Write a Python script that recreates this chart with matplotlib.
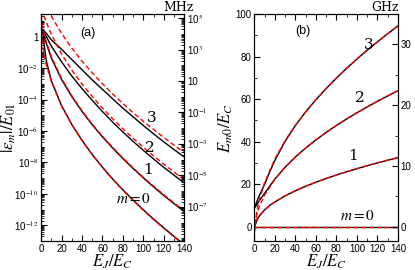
import numpy as np
import matplotlib
matplotlib.use("Agg")
import matplotlib.pyplot as plt
from matplotlib.ticker import FixedLocator, LogLocator, NullFormatter, MultipleLocator

plt.rcParams["mathtext.fontset"] = "stix"
plt.rcParams["font.family"] = ["Liberation Sans", "DejaVu Sans"]

# ---- panel (a): log10 of |eps_m| / E01 ----
xa_red0 = [0.13, 0.15, 0.2, 0.3, 0.5, 1, 2, 3, 5, 10, 20, 30, 40, 50, 60, 70, 80, 90, 100, 110, 120, 130, 140]
ya_red0 = [1.77, 1.11, 0.69, 0.38, 0.09, -0.31, -0.81, -1.18, -1.77, -2.85, -4.40, -5.60, -6.61, -7.51,
           -8.32, -9.07, -9.76, -10.42, -11.04, -11.63, -12.19, -12.73, -13.25]
xa_red1 = [0.15, 0.2, 0.3, 0.5, 1, 2, 3, 5, 10, 20, 30, 40, 50, 60, 70, 80, 90, 100, 110, 120, 130, 140]
ya_red1 = [1.80, 1.44, 1.22, 1.04, 0.80, 0.45, 0.16, -0.31, -1.25, -2.65, -3.76, -4.71, -5.56, -6.33,
           -7.04, -7.71, -8.34, -8.94, -9.50, -10.05, -10.57, -11.08]
xa_red2 = [0.5, 1, 2, 3, 5, 10, 20, 30, 40, 50, 60, 70, 80, 90, 100, 110, 120, 130, 140]
ya_red2 = [1.79, 1.70, 1.50, 1.30, 0.94, 0.15, -1.10, -2.12, -3.01, -3.80, -4.54, -5.22, -5.86, -6.46,
           -7.03, -7.58, -8.11, -8.61, -9.10]
xa_red3 = [3, 5, 10, 20, 30, 40, 50, 60, 70, 80, 90, 100, 110, 120, 130, 140]
ya_red3 = [2.20, 1.94, 1.31, 0.21, -0.72, -1.55, -2.30, -2.99, -3.64, -4.25, -4.83, -5.38, -5.90, -6.41,
           -6.90, -7.37]

xa_blk = [0, 1, 2, 3, 5, 10, 20, 30, 40, 50, 60, 70, 80, 90, 100, 110, 120, 130, 140]
ya_blk0 = [0.45, 0.35, 0.1, -0.5, -1.5, -2.8, -4.38, -5.58, -6.59, -7.49, -8.30, -9.05, -9.74, -10.39,
           -11.01, -11.60, -12.16, -12.70, -13.22]
ya_blk1 = [0.45, 0.40, 0.30, 0.05, -0.40, -1.35, -2.72, -3.80, -4.75, -5.60, -6.37, -7.08, -7.75, -8.38,
           -8.98, -9.55, -10.10, -10.62, -11.12]
ya_blk2 = [0.45, 0.42, 0.37, 0.28, 0.02, -0.60, -1.60, -2.50, -3.30, -4.05, -4.76, -5.43, -6.06, -6.66,
           -7.23, -7.78, -8.31, -8.81, -9.30]
ya_blk3 = [0.45, 0.44, 0.41, 0.37, 0.22, -0.20, -0.80, -1.45, -2.10, -2.75, -3.35, -3.95, -4.55, -5.10,
           -5.65, -6.18, -6.69, -7.18, -7.65]

# ---- panel (b): E_m0 / E_C ----
xb_red = [0, 0.02, 0.125, 0.5, 1, 2, 3, 5, 10, 20, 30, 40, 50, 60, 70, 80, 90, 100, 110, 120, 130, 140]
yb_red1 = [-1, -0.6, 0, 1, 1.83, 3.0, 3.90, 5.32, 7.94, 11.65, 14.49, 16.89, 19.0, 20.91, 22.66, 24.30,
           25.83, 27.28, 28.67, 29.98, 31.25, 32.47]
yb_red2 = [-3, -2.2, -1, 1, 2.66, 5.0, 6.80, 9.65, 14.89, 22.30, 27.98, 32.78, 37.0, 40.82, 44.33, 47.60,
           50.67, 53.57, 56.33, 58.97, 61.50, 63.93]
yb_red3 = [-6, -4.8, -3, 0, 2.49, 6.0, 8.70, 12.97, 20.83, 31.95, 40.48, 47.67, 54.0, 59.73, 64.99, 69.89,
           74.50, 78.85, 83.0, 86.95, 90.75, 94.40]
xb_blk = [0, 1, 2, 3, 5, 10, 15, 20, 30, 40, 50, 60, 70, 80, 90, 100, 110, 120, 130, 140]
yb_blk1 = [0, 1.0, 2.3, 3.5, 5.1, 7.9, 10.0, 11.64, 14.48, 16.88, 19.0, 20.91, 22.66, 24.30, 25.83, 27.28,
           28.67, 29.98, 31.25, 32.47]
yb_blk2 = [8.8, 9.5, 10.0, 10.8, 12.3, 15.7, 19.1, 22.4, 28.0, 32.78, 37.0, 40.82, 44.33, 47.60, 50.67,
           53.57, 56.33, 58.97, 61.50, 63.93]
yb_blk3 = [8.8, 10.0, 11.3, 12.6, 14.8, 20.0, 25.8, 31.2, 40.2, 47.6, 54.0, 59.73, 64.99, 69.89, 74.50,
           78.85, 83.0, 86.95, 90.75, 94.40]

labels_a = [("3", 108, -5.2), ("2", 106, -7.05), ("1", 104.5, -8.45), ("$m=0$", 90, -10.3)]
labels_b = [("3", 111, 85.5), ("2", 103, 60.5), ("1", 96, 33), ("$m=0$", 101, 5)]

E01_MHZ = 10 ** 3.82   # scale of right axis in (a)
EC_GHZ = 0.35          # scale of right axis in (b)

fig = plt.figure(figsize=(4.15, 2.70), dpi=100)
axa = fig.add_axes([0.099, 0.107, 0.345, 0.841])
axb = fig.add_axes([0.613, 0.107, 0.346, 0.841])

red = dict(color="#ff0000", lw=1.0, ls=(0, (3.5, 2)))
blk = dict(color="black", lw=1.0)

for y in [ya_blk0, ya_blk1, ya_blk2, ya_blk3]:
    axa.plot(xa_blk, 10 ** np.array(y), **blk)
for x, y in [(xa_red0, ya_red0), (xa_red1, ya_red1), (xa_red2, ya_red2), (xa_red3, ya_red3)]:
    axa.plot(x, 10 ** np.array(y), **red)

axa.set_yscale("log")
axa.set_xlim(0, 140)
ylo, yhi = 10 ** -13.0, 10 ** 1.44
axa.set_ylim(ylo, yhi)

major = [10.0 ** k for k in range(0, -13, -2)]
axa.yaxis.set_major_locator(FixedLocator(major))
axa.set_yticklabels(["1"] + [r"10$^{%d}$" % k for k in range(-2, -13, -2)])
axa.yaxis.set_minor_locator(LogLocator(base=10, subs=np.arange(1, 10), numticks=40))
axa.yaxis.set_minor_formatter(NullFormatter())
axa.xaxis.set_major_locator(MultipleLocator(20))
axa.xaxis.set_minor_locator(MultipleLocator(10))

for t, x, ly in labels_a:
    axa.text(x, 10 ** ly, t, fontsize=11, family="serif", ha="center", va="center")
axa.text(46, 10 ** 0.25, "(a)", fontsize=9, ha="center", va="center")

axa2 = axa.twinx()
axa2.set_yscale("log")
axa2.set_ylim(ylo * E01_MHZ, yhi * E01_MHZ)
rmaj = [1e5, 1e3, 1e1, 1e-1, 1e-3, 1e-5, 1e-7]
axa2.yaxis.set_major_locator(FixedLocator(rmaj))
axa2.set_yticklabels([r"10$^{5}$", r"10$^{3}$", "10", r"10$^{-1}$", r"10$^{-3}$", r"10$^{-5}$", r"10$^{-7}$"])
axa2.yaxis.set_minor_locator(LogLocator(base=10, subs=np.arange(1, 10), numticks=40))
axa2.yaxis.set_minor_formatter(NullFormatter())

axa.set_xlabel(r"$E_J/E_C$", fontsize=12, labelpad=-1)
axa.set_ylabel(r"$|\epsilon_m|/E_{01}$", fontsize=12, labelpad=-3)

# panel (b)
for y in [yb_blk1, yb_blk2, yb_blk3]:
    axb.plot(xb_blk, y, **blk)
axb.plot([0, 140], [0, 0], **blk)
for y in [yb_red1, yb_red2, yb_red3]:
    axb.plot(xb_red, y, **red)
axb.plot([0, 140], [0, 0], **red)

axb.set_xlim(0, 140)
axb.set_ylim(-6.8, 100)
axb.xaxis.set_major_locator(MultipleLocator(20))
axb.xaxis.set_minor_locator(MultipleLocator(10))
axb.yaxis.set_major_locator(MultipleLocator(20))
axb.yaxis.set_minor_locator(MultipleLocator(10))
for t, x, y in labels_b:
    axb.text(x, y, t, fontsize=11, family="serif", ha="center", va="center")
axb.text(47, 92, "(b)", fontsize=9, ha="center", va="center")

axb2 = axb.twinx()
axb2.set_ylim(-6.8 * EC_GHZ, 100 * EC_GHZ)
axb2.yaxis.set_major_locator(MultipleLocator(10))
axb2.yaxis.set_minor_locator(MultipleLocator(5))

axb.set_xlabel(r"$E_J/E_C$", fontsize=12, labelpad=-1)
axb.set_ylabel(r"$E_{m0}/E_C$", fontsize=12, labelpad=0)

for ax in [axa, axb]:
    ax.tick_params(which="both", direction="in", top=True, right=False, labelsize=7, pad=2)
    ax.tick_params(which="major", length=4, width=0.8)
    ax.tick_params(which="minor", length=2, width=0.6)
for ax in [axa2, axb2]:
    ax.tick_params(which="both", direction="in", labelsize=7, pad=2)
    ax.tick_params(which="major", length=4, width=0.8)
    ax.tick_params(which="minor", length=2, width=0.6)

fig.text(0.429, 0.972, "MHz", fontsize=9, family="serif", ha="center", va="center")
fig.text(0.928, 0.972, "GHz", fontsize=9, family="serif", ha="center", va="center")

fig.savefig("out.png", dpi=100)
